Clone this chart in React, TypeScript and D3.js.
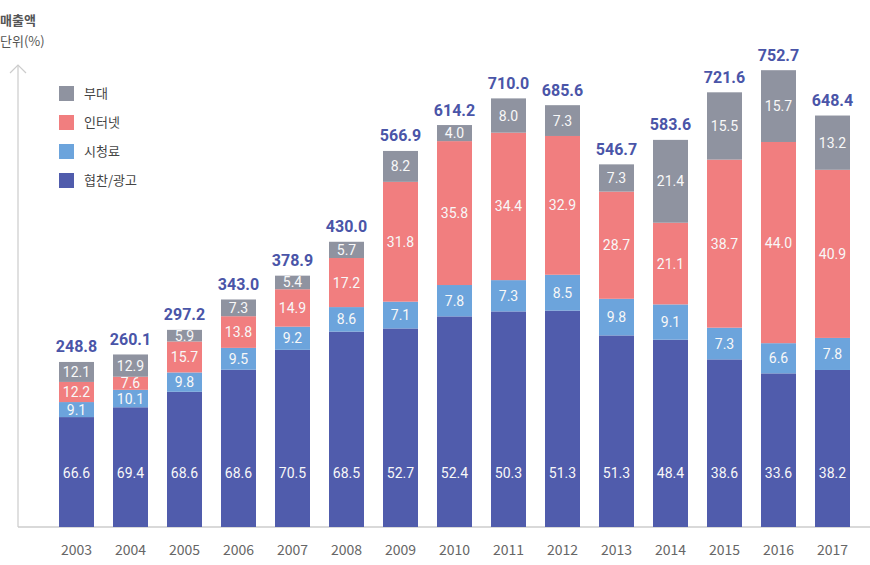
import React from "react";
import * as d3 from "d3";

const years = ["2003","2004","2005","2006","2007","2008","2009","2010","2011","2012","2013","2014","2015","2016","2017"];
const totals = [248.8, 260.1, 297.2, 343.0, 378.9, 430.0, 566.9, 614.2, 710.0, 685.6, 546.7, 583.6, 721.6, 752.7, 648.4];
const adShare = [66.6, 69.4, 68.6, 68.6, 70.5, 68.5, 52.7, 52.4, 50.3, 51.3, 51.3, 48.4, 38.6, 33.6, 38.2];
const feeShare = [9.1, 10.1, 9.8, 9.5, 9.2, 8.6, 7.1, 7.8, 7.3, 8.5, 9.8, 9.1, 7.3, 6.6, 7.8];
const internetShare = [12.2, 7.6, 15.7, 13.8, 14.9, 17.2, 31.8, 35.8, 34.4, 32.9, 28.7, 21.1, 38.7, 44.0, 40.9];
const miscShare = [12.1, 12.9, 5.9, 7.3, 5.4, 5.7, 8.2, 4.0, 8.0, 7.3, 7.3, 21.4, 15.5, 15.7, 13.2];

const seriesNames = ["협찬/광고", "시청료", "인터넷", "부대"];
const seriesValues = [adShare, feeShare, internetShare, miscShare];
const seriesColors = ["#505cac", "#6ca4dc", "#f17e7f", "#8f93a0"];

const W = 870;
const H = 565;
const baseline = 527;
const axisX = 18;

export default function App() {
  const x = d3.scaleBand<string>()
    .domain(years)
    .range([49.5, 859.5])
    .paddingInner(19 / 54)
    .paddingOuter(19 / 108);
  const y = d3.scaleLinear()
    .domain([0, 600, 715, 760])
    .range([baseline, baseline - 398, baseline - 430, baseline - 462]);
  const bw = x.bandwidth();
  const numFont = "Roboto, 'Noto Sans', sans-serif";
  const krFont = "'Noto Sans CJK KR', 'Noto Sans', sans-serif";

  const legendOrder = [3, 2, 1, 0];

  return (
    <svg width={W} height={H} style={{ position: "absolute", left: 0, top: 0, background: "#fff" }}>
      <text x={0} y={21} dominantBaseline="middle" fontFamily={krFont} fontWeight="bold" fontSize={13} fill="#555">매출액</text>
      <text x={0} y={42} dominantBaseline="middle" fontFamily={krFont} fontSize={13} fill="#555">단위(%)</text>

      <line x1={axisX} y1={65} x2={axisX} y2={baseline} stroke="#cccccc" strokeWidth={1.2} />
      <polyline points={`${axisX - 8},${73} ${axisX},${65} ${axisX + 8},${73}`} fill="none" stroke="#cccccc" strokeWidth={1.2} />
      <line x1={axisX} y1={baseline} x2={W} y2={baseline} stroke="#cccccc" strokeWidth={1.5} />

      {legendOrder.map((si, i) => (
        <g key={si} transform={`translate(59, ${86 + i * 29})`}>
          <rect x={0} y={0} width={15} height={15} fill={seriesColors[si]} />
          <text x={25} y={8} dominantBaseline="middle" fontFamily={krFont} fontSize={13} fill="#444">{seriesNames[si]}</text>
        </g>
      ))}

      {years.map((yr, i) => {
        const vals = seriesValues.map((s) => s[i]);
        const sum = d3.sum(vals);
        const inner = d3.scaleLinear().domain([0, sum]).range([baseline, y(totals[i])]);
        const x0 = x(yr)!;
        const cx = x0 + bw / 2;
        let cum = 0;
        return (
          <g key={yr}>
            {vals.map((v, si) => {
              const yb = inner(cum);
              cum += v;
              const yt = inner(cum);
              const ly = si === 0 ? baseline - 54 : (yb + yt) / 2;
              return (
                <g key={si}>
                  <rect x={x0} y={yt} width={bw} height={yb - yt} fill={seriesColors[si]} />
                  <text x={cx} y={ly} textAnchor="middle" dominantBaseline="central" fontFamily={numFont} fontSize={14} fill="#f8f8f8">{v.toFixed(1)}</text>
                </g>
              );
            })}
            <text x={cx} y={y(totals[i]) - 15} textAnchor="middle" dominantBaseline="central" fontFamily={numFont} fontWeight="bold" fontSize={16} fill="#4a55a8">{totals[i].toFixed(1)}</text>
            <text x={cx} y={549} textAnchor="middle" dominantBaseline="central" fontFamily={krFont} fontSize={14} fill="#666">{yr}</text>
          </g>
        );
      })}
    </svg>
  );
}
